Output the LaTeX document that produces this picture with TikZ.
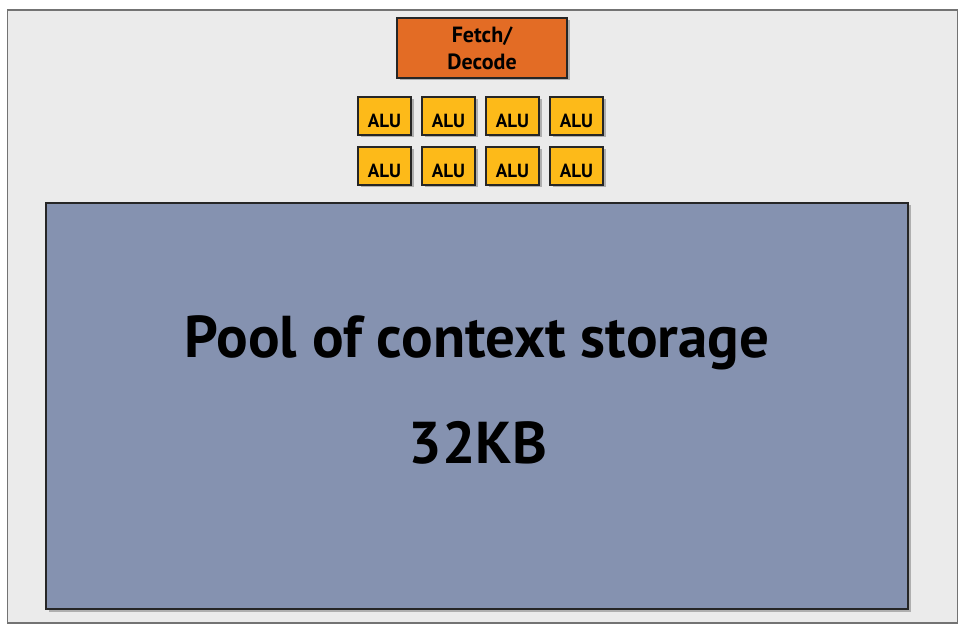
\documentclass[tikz,border=0pt]{standalone}
\usepackage{fontspec}
\setmainfont{PT Sans}
\usetikzlibrary{shadows}
\definecolor{chipgray}{HTML}{EBEBEB}
\definecolor{poolblue}{HTML}{8592B0}
\definecolor{fetchorange}{HTML}{E36C25}
\definecolor{aluyellow}{HTML}{FDBA19}
\begin{document}
\begin{tikzpicture}
  [x=1pt,y=-1pt,
    unit/.style={draw=black!85,line width=1.2pt,inner sep=0pt,
      drop shadow={shadow xshift=2.5pt,shadow yshift=-2.5pt,opacity=0.45,fill=black!60}},
    alu/.style={unit,fill=aluyellow,minimum width=53pt,minimum height=38pt,
      text height=24pt,text depth=0pt,
      font=\bfseries\fontsize{19}{21}\selectfont},
    fetch/.style={unit,fill=fetchorange,minimum width=170pt,minimum height=60pt,
      align=center,font=\bfseries\fontsize{22}{27}\selectfont},
    pool/.style={unit,fill=poolblue,minimum width=862pt,minimum height=406pt},
    pooltext/.style={anchor=base,inner sep=0pt,font=\bfseries\fontsize{59}{63}\selectfont},
]
  \useasboundingbox (0,0) rectangle (966,636);
  % outer chip
  \node[draw=black!55,line width=1.6pt,fill=chipgray,minimum width=950pt,
    minimum height=613pt,inner sep=0pt] (chip) at (482.5,316.5) {};
  \node[fetch] (fetch) at (482,48) {Fetch/\\Decode};
  % ALU array
  \foreach \r/\y in {1/116,2/166}
    \foreach \c in {1,...,4}
      \node[alu] (alu-\r-\c) at (320.5+64*\c,\y) {ALU};
  \node[pool] (pool) at (477,406) {};
  \node[pooltext] (pooltitle) at (477,357) {Pool of context storage};
  \node[pooltext] (poolsize) at (478,463) {32KB};
\end{tikzpicture}
\end{document}
